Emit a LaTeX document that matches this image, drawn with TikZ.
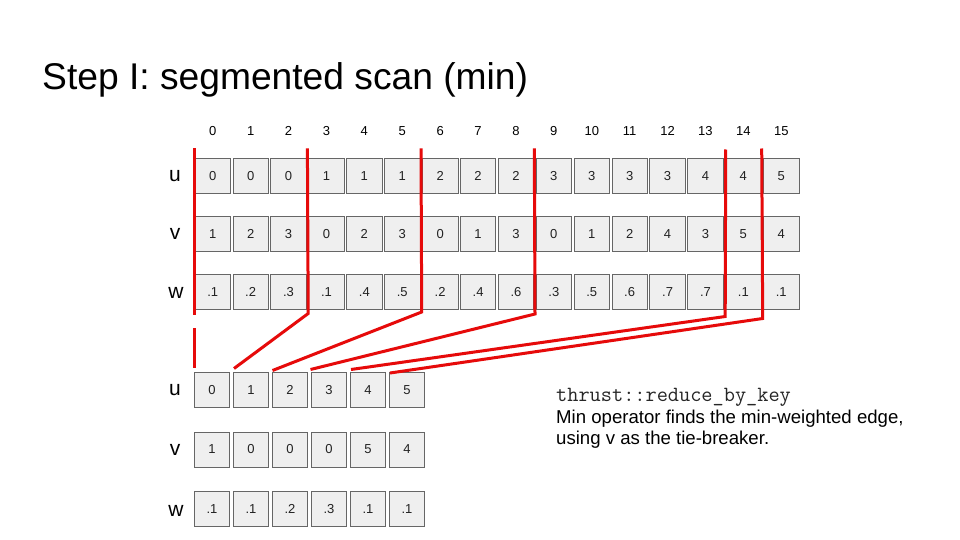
\documentclass[tikz,border=0pt]{standalone}
\usepackage{fontspec}
\setmainfont{Liberation Sans}
\definecolor{boxfill}{HTML}{EFEFEF}
\definecolor{boxline}{HTML}{666666}
\definecolor{numtext}{HTML}{222222}
\definecolor{segred}{RGB}{230,10,10}
\begin{document}
\begin{tikzpicture}[x=1pt,y=-1pt,
  box/.style={draw=boxline, fill=boxfill, line width=0.8pt, minimum width=35.5pt, minimum height=35pt, inner sep=0pt, font=\fontsize{13}{15}\selectfont, text=numtext},
  idx/.style={inner sep=0pt, font=\fontsize{13}{15}\selectfont},
  rowlab/.style={inner sep=0pt, font=\fontsize{21}{24}\selectfont},
  seg/.style={draw=segred, line width=3pt, line join=miter},
  txt/.style={inner sep=0pt, anchor=base west, font=\fontsize{18.6}{22}\selectfont}]
\useasboundingbox (0,0) rectangle (960,540);
\fill[white] (0,0) rectangle (960,540);
% title
\node[inner sep=0pt, anchor=base west, font=\fontsize{37.2}{42}\selectfont] (title) at (42,90) {Step I: segmented scan (min)};
% indices
\foreach \i in {0,...,15} \node[idx] (ix\i) at ({212.75+37.9*\i},130.7) {\i};
% top rows
\foreach \val [count=\i from 0] in {0,0,0,1,1,1,2,2,2,3,3,3,3,4,4,5}
  \node[box] (tu\i) at ({212.75+37.9*\i},176.3) {\val};
\foreach \val [count=\i from 0] in {1,2,3,0,2,3,0,1,3,0,1,2,4,3,5,4}
  \node[box] (tv\i) at ({212.75+37.9*\i},234.2) {\val};
\foreach \val [count=\i from 0] in {.1,.2,.3,.1,.4,.5,.2,.4,.6,.3,.5,.6,.7,.7,.1,.1}
  \node[box] (tw\i) at ({212.75+37.9*\i},291.8) {\val};
\node[rowlab] (lu) at (175,176) {u};
\node[rowlab] (lv) at (175,234) {v};
\node[rowlab] (lw) at (176,293) {w};
% bottom rows
\foreach \val [count=\i from 0] in {0,1,2,3,4,5}
  \node[box] (bu\i) at ({212+39*\i},389.8) {\val};
\foreach \val [count=\i from 0] in {1,0,0,0,5,4}
  \node[box] (bv\i) at ({212+39*\i},449.5) {\val};
\foreach \val [count=\i from 0] in {.1,.1,.2,.3,.1,.1}
  \node[box] (bw\i) at ({212+39*\i},509.2) {\val};
\node[rowlab] (blu) at (175,390) {u};
\node[rowlab] (blv) at (175,450) {v};
\node[rowlab] (blw) at (176,511) {w};
% segment lines
\coordinate (s0a) at (194.3,148.3); \coordinate (s0b) at (194.3,315);
\coordinate (s0c) at (194.3,328.3); \coordinate (s0d) at (194.3,368.3);
\coordinate (s3a) at (307.4,148.3); \coordinate (s3b) at (308.2,313.5); \coordinate (s3c) at (234,368.5);
\coordinate (s6a) at (421,148.3); \coordinate (s6b) at (421.7,312); \coordinate (s6c) at (272.5,370.5);
\coordinate (s9a) at (534.3,148.3); \coordinate (s9b) at (535,314); \coordinate (s9c) at (310.5,369.5);
\coordinate (s14a) at (725.7,149.5); \coordinate (s14b) at (725.2,316.5); \coordinate (s14c) at (351,369.5);
\coordinate (s15a) at (761.7,148.5); \coordinate (s15b) at (762.7,318.5); \coordinate (s15c) at (390,373);
\draw[seg] (s0a) -- (s0b);
\draw[seg] (s0c) -- (s0d);
\draw[seg] (s3a) -- (s3b) -- (s3c);
\draw[seg] (s6a) -- (s6b) -- (s6c);
\draw[seg] (s9a) -- (s9b) -- (s9c);
\draw[seg] (s14a) -- (s14b) -- (s14c);
\draw[seg] (s15a) -- (s15b) -- (s15c);
% note text
\node[txt, font=\ttfamily\fontsize{21.7}{24}\selectfont, text=black!85] (n1) at (556,401) {thrust::reduce\_by\_key};
\node[txt] (n2) at (556,423) {Min operator finds the min-weighted edge,};
\node[txt] (n3) at (556,444.5) {using v as the tie-breaker.};
\end{tikzpicture}
\end{document}
